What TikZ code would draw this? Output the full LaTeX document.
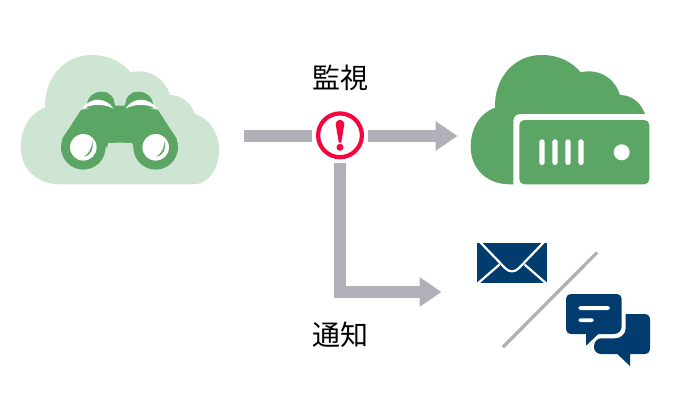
\documentclass[tikz,border=0pt]{standalone}
\usepackage{fontspec}
\setmainfont{Noto Sans CJK JP}
\usetikzlibrary{arrows.meta}
\definecolor{lightgreen}{HTML}{CFE5D3}
\definecolor{midgreen}{HTML}{5BA664}
\definecolor{flowgray}{HTML}{B0B0B9}
\definecolor{alertred}{HTML}{F5063C}
\definecolor{navy}{HTML}{003D6E}
\tikzset{
  flow/.style={draw=flowgray,line width=12pt},
  flowhead/.style={flow,-{Triangle[length=22pt,width=28.3pt,sep=0pt]}},
  lbl/.style={font=\fontsize{28}{28}\selectfont,text=black,inner sep=0pt},
  anchorpt/.style={inner sep=0pt,minimum size=0pt},
  alertring/.style={circle,draw=alertred,line width=4.2pt,fill=white,minimum size=43.8pt,inner sep=0pt},
  cloudshape/.pic={
    \fill[pic actions] (60,184.3)
      .. controls (36,184.3) and (20.7,168) .. (20.7,147)
      .. controls (20.7,128) and (30,113) .. (45,107.7)
      .. controls (44,78) and (64,55) .. (91.7,55)
      .. controls (108,55) and (121,61) .. (130.7,72.3)
      .. controls (150,68) and (165,79) .. (170,95)
      .. controls (182,95) and (191,103) .. (195,114)
      .. controls (210,119) and (219,133) .. (219,150)
      .. controls (219,170) and (208,184.3) .. (193,184.3)
      -- cycle;
  }
}
\begin{document}
\begin{tikzpicture}[x=1pt,y=-1pt]
\useasboundingbox (0,0) rectangle (680,400);
% source cloud with binoculars
\pic[fill=lightgreen] {cloudshape};
\fill[midgreen] (83.3,147.3) circle (22.3);
\fill[midgreen] (155.7,147.3) circle (22.3);
\fill[midgreen] (81,110) -- (102,105.7) -- (137,105.7) -- (158,110) -- (176.5,138.5) -- (177.5,147.3) -- (133.5,147.3) -- (132.3,143) .. controls (125,142.6) and (115,142.6) .. (108.2,143) -- (107,147.3) -- (61.5,147.3) -- (62.5,138.5) -- cycle;
\fill[midgreen] (87,104) .. controls (88,96) and (94,91.7) .. (102,91.7) .. controls (110,91.7) and (115,97) .. (115,108) -- (87,108) -- cycle;
\fill[midgreen] (125,108) .. controls (125,97) and (130,91.7) .. (138,91.7) .. controls (146,91.7) and (152,96) .. (153,104) -- (153,108) -- cycle;
\fill[white] (81.5,109) .. controls (86,103) and (92,99.7) .. (98,99.7) .. controls (104,99.7) and (110,103) .. (113.5,108.5) .. controls (108,106) and (103,104.8) .. (98,104.8) .. controls (93,104.8) and (87,106.3) .. (81.5,109) -- cycle;
\fill[white] (157.5,109) .. controls (153,103) and (147,99.7) .. (141,99.7) .. controls (135,99.7) and (129,103) .. (125.5,108.5) .. controls (131,106) and (136,104.8) .. (141,104.8) .. controls (146,104.8) and (152,106.3) .. (157.5,109) -- cycle;
\fill[white] (83.3,147.3) circle (13.3);
\fill[white] (155.7,147.3) circle (13.3);
\fill[midgreen] (92.3,141) .. controls (94,149) and (91,155.5) .. (84,156.5) .. controls (89,153.5) and (91.7,149) .. (92.3,141) -- cycle;
\fill[midgreen] (164.7,141) .. controls (166.4,149) and (163.4,155.5) .. (156.4,156.5) .. controls (161.4,153.5) and (164.1,149) .. (164.7,141) -- cycle;
% destination cloud with server
\begin{scope}[shift={(450,0)}]
  \pic[fill=midgreen] {cloudshape};
\end{scope}
\fill[white,rounded corners=7pt] (513.3,114) rectangle (680,195);
\fill[midgreen,rounded corners=5pt] (519.3,120) rectangle (649.3,184.3);
\foreach \bx in {539.3,552.3,565.3,578.3}
  \fill[white,rounded corners=2.6pt] (\bx,139.3) rectangle ++(5.4,25.7);
\fill[white] (621.7,152.3) circle (8);
% anchors
\node[anchorpt] (src) at (244,136) {};
\node[alertring] (alert) at (340,135.3) {};
\node[anchorpt] (dst) at (457.7,136) {};
\node[anchorpt] (msg) at (441.7,292) {};
\coordinate (altR) at (367.7,136);
\coordinate (altL) at (312.3,136);
\coordinate (altB) at (340,163.3);
% connectors
\draw[flow] (src) -- (altL);
\draw[flowhead] (altR) -- (dst);
\draw[flowhead] (altB) |- (msg);
% exclamation mark
\fill[alertred] (335.7,124) .. controls (335.7,118.5) and (344.3,118.5) .. (344.3,124) -- (341.3,142) .. controls (341,143.3) and (339,143.3) .. (338.7,142) -- cycle;
\fill[alertred] (340,147.3) circle (3.5);
% labels
\node[lbl] (mon) at (340,78) {監視};
\node[lbl] (ntf) at (340,335) {通知};
% envelope
\fill[navy] (476.7,242.7) rectangle (547.3,283.3);
\draw[white,line width=2.2pt,line join=round] (479,241) -- (505,268) .. controls (509,272.5) and (515,272.5) .. (519,268) -- (545,241);
\draw[white,line width=2.2pt] (476,285) -- (499.5,264.5);
\draw[white,line width=2.2pt] (548,285) -- (524.5,264.5);
% slash
\node[anchorpt] (sa) at (597.3,252.3) {};
\node[anchorpt] (sb) at (502.7,347.3) {};
\draw[flowgray,line width=3.3pt] (sa) -- (sb);
% chat bubbles
\fill[navy] (625.7,314) -- (644,314) .. controls (648,314) and (650,316) .. (650,320) -- (650,348) .. controls (650,352) and (648,354) .. (644,354) -- (630,354) -- (630,366) -- (617.3,354) -- (601,354) .. controls (597,354) and (594,351) .. (594,347) .. controls (594,342) and (597,338.3) .. (601,338.3) -- (615,338.3) .. controls (621,338.3) and (625.7,334) .. (625.7,328) -- cycle;
\fill[navy] (572,294) -- (615.7,294) .. controls (619.7,294) and (621.7,296) .. (621.7,300) -- (621.7,326) .. controls (621.7,331) and (618,334) .. (614,334) -- (598.3,334) -- (586,345.7) -- (586,334) -- (572,334) .. controls (568,334) and (566,332) .. (566,328) -- (566,300) .. controls (566,296) and (568,294) .. (572,294) -- cycle;
\fill[white,rounded corners=1.8pt] (578.3,306) rectangle (610,310);
\fill[white,rounded corners=1.8pt] (578.3,318.3) rectangle (594,322);
\end{tikzpicture}
\end{document}
